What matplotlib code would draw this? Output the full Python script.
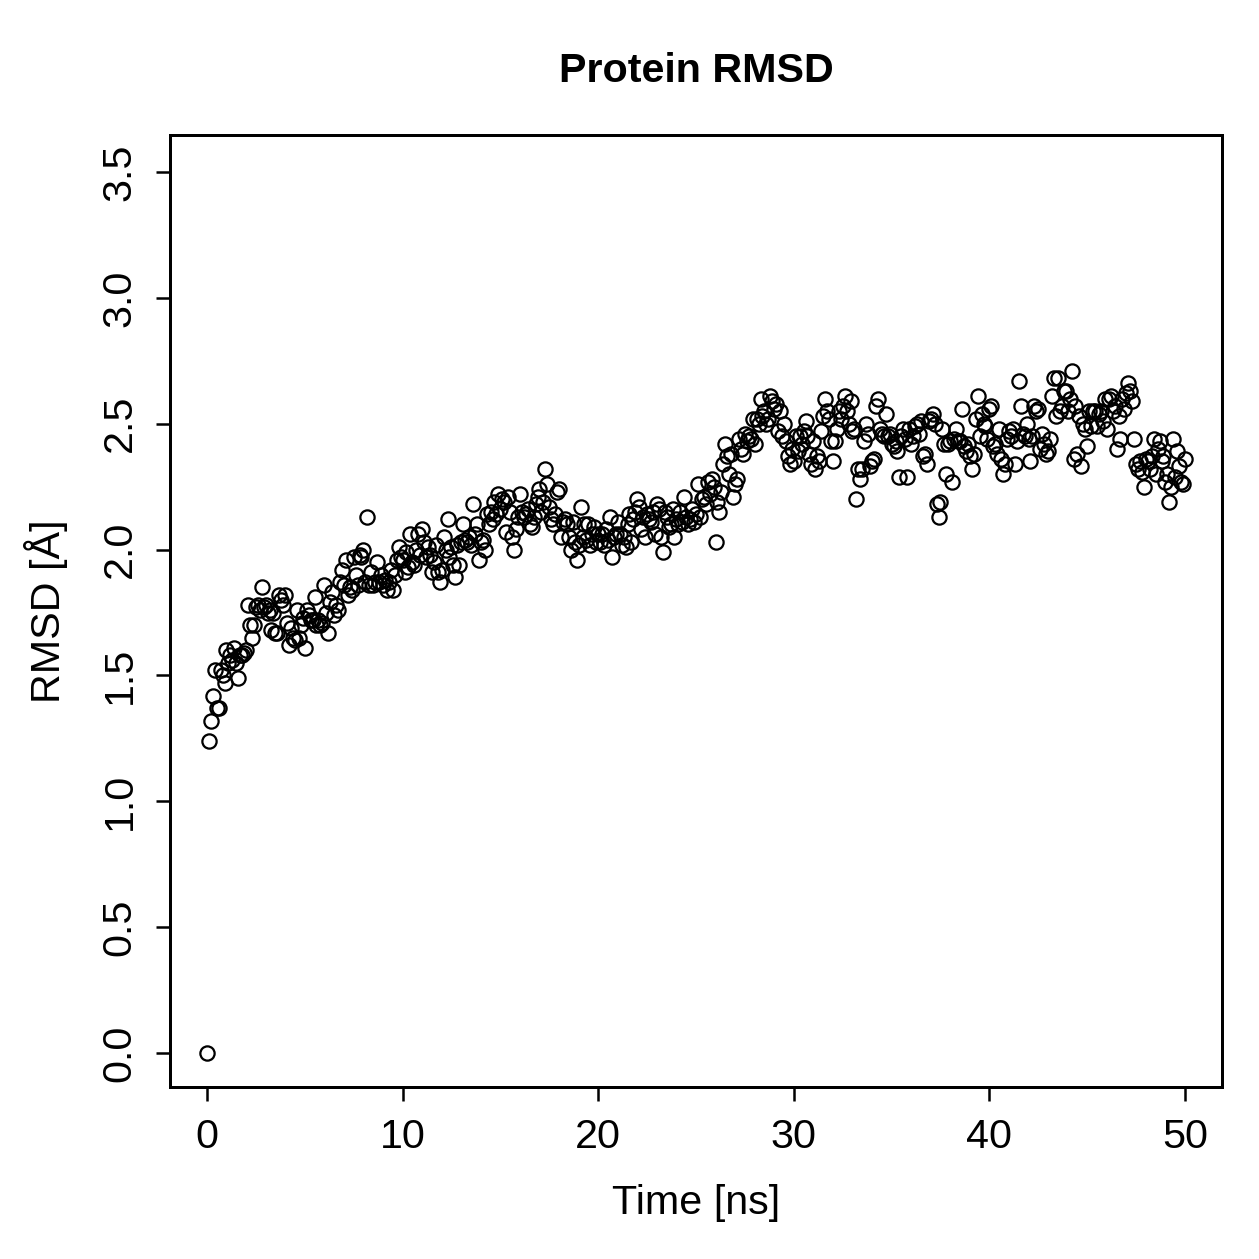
#!/usr/bin/env python3

import numpy as np
import matplotlib.pyplot as plt

plt.rcParams["font.family"] = ["Liberation Sans", "DejaVu Sans"]

# time axis: 0..50 ns in 0.1 ns steps
time_ns = np.round(np.arange(0, 50.05, 0.1), 1)

# RMSD values, 10 per ns
rmsd = [
    0.00, 1.24, 1.32, 1.42, 1.52, 1.37, 1.37, 1.52, 1.50, 1.47,
    1.60, 1.55, 1.58, 1.56, 1.61, 1.55, 1.49, 1.58, 1.58, 1.59,
    1.60, 1.78, 1.70, 1.65, 1.70, 1.77, 1.78, 1.76, 1.85, 1.77,
    1.78, 1.75, 1.76, 1.68, 1.75, 1.67, 1.67, 1.82, 1.80, 1.78,
    1.82, 1.71, 1.62, 1.69, 1.65, 1.64, 1.76, 1.65, 1.70, 1.73,
    1.61, 1.76, 1.74, 1.72, 1.72, 1.81, 1.70, 1.72, 1.70, 1.71,
    1.86, 1.75, 1.67, 1.79, 1.83, 1.74, 1.78, 1.76, 1.87, 1.92,
    1.86, 1.96, 1.82, 1.85, 1.84, 1.97, 1.90, 1.86, 1.98, 1.97,
    2.00, 1.87, 2.13, 1.86, 1.91, 1.86, 1.87, 1.95, 1.87, 1.90,
    1.86, 1.88, 1.84, 1.87, 1.92, 1.84, 1.90, 1.96, 2.01, 1.97,
    1.96, 1.91, 1.99, 1.93, 2.06, 1.95, 1.94, 2.00, 2.06, 1.98,
    2.08, 2.03, 1.97, 2.01, 1.98, 1.91, 1.95, 2.02, 1.91, 1.87,
    1.92, 2.05, 2.00, 2.12, 1.97, 2.01, 1.94, 1.89, 2.02, 1.94,
    2.03, 2.10, 2.04, 2.03, 2.05, 2.02, 2.18, 2.06, 2.10, 1.96,
    2.03, 2.04, 2.00, 2.14, 2.10, 2.15, 2.12, 2.19, 2.14, 2.22,
    2.16, 2.20, 2.19, 2.07, 2.21, 2.15, 2.05, 2.00, 2.08, 2.13,
    2.22, 2.15, 2.13, 2.14, 2.16, 2.10, 2.09, 2.13, 2.18, 2.21,
    2.24, 2.15, 2.19, 2.32, 2.26, 2.17, 2.12, 2.10, 2.14, 2.23,
    2.24, 2.05, 2.11, 2.12, 2.10, 2.05, 2.00, 2.11, 2.03, 1.96,
    2.02, 2.17, 2.05, 2.10, 2.04, 2.10, 2.02, 2.06, 2.09, 2.03,
    2.06, 2.03, 2.06, 2.02, 2.08, 2.04, 2.13, 1.97, 2.05, 2.06,
    2.11, 2.06, 2.02, 2.05, 2.01, 2.10, 2.14, 2.03, 2.12, 2.15,
    2.20, 2.17, 2.08, 2.13, 2.05, 2.14, 2.12, 2.11, 2.15, 2.06,
    2.18, 2.16, 2.05, 1.99, 2.15, 2.13, 2.09, 2.10, 2.16, 2.05,
    2.12, 2.10, 2.15, 2.11, 2.21, 2.13, 2.10, 2.12, 2.16, 2.11,
    2.14, 2.26, 2.13, 2.20, 2.21, 2.18, 2.27, 2.22, 2.28, 2.25,
    2.03, 2.19, 2.15, 2.23, 2.34, 2.42, 2.37, 2.30, 2.38, 2.21,
    2.26, 2.28, 2.44, 2.40, 2.38, 2.46, 2.43, 2.45, 2.44, 2.52,
    2.42, 2.52, 2.50, 2.60, 2.53, 2.55, 2.50, 2.52, 2.61, 2.59,
    2.56, 2.58, 2.47, 2.55, 2.45, 2.50, 2.43, 2.37, 2.34, 2.40,
    2.35, 2.45, 2.39, 2.45, 2.42, 2.47, 2.51, 2.45, 2.38, 2.34,
    2.43, 2.32, 2.37, 2.35, 2.47, 2.53, 2.60, 2.55, 2.52, 2.43,
    2.35, 2.43, 2.48, 2.55, 2.52, 2.57, 2.61, 2.55, 2.50, 2.59,
    2.47, 2.48, 2.20, 2.32, 2.28, 2.32, 2.43, 2.50, 2.46, 2.33,
    2.35, 2.36, 2.57, 2.60, 2.48, 2.46, 2.45, 2.54, 2.45, 2.46,
    2.42, 2.41, 2.43, 2.39, 2.29, 2.45, 2.48, 2.44, 2.29, 2.48,
    2.42, 2.45, 2.49, 2.50, 2.46, 2.51, 2.37, 2.38, 2.34, 2.51,
    2.52, 2.54, 2.50, 2.18, 2.13, 2.19, 2.48, 2.42, 2.30, 2.42,
    2.43, 2.27, 2.44, 2.48, 2.43, 2.43, 2.56, 2.41, 2.39, 2.42,
    2.37, 2.32, 2.38, 2.52, 2.61, 2.45, 2.54, 2.50, 2.49, 2.44,
    2.56, 2.57, 2.41, 2.42, 2.38, 2.48, 2.36, 2.30, 2.34, 2.44,
    2.47, 2.45, 2.48, 2.34, 2.43, 2.67, 2.57, 2.46, 2.45, 2.50,
    2.44, 2.35, 2.45, 2.57, 2.55, 2.56, 2.40, 2.46, 2.42, 2.38,
    2.39, 2.44, 2.61, 2.68, 2.53, 2.68, 2.55, 2.57, 2.63, 2.63,
    2.55, 2.60, 2.71, 2.36, 2.57, 2.38, 2.53, 2.33, 2.50, 2.48,
    2.41, 2.55, 2.49, 2.55, 2.55, 2.49, 2.54, 2.55, 2.51, 2.60,
    2.48, 2.60, 2.61, 2.55, 2.57, 2.40, 2.53, 2.44, 2.60, 2.56,
    2.62, 2.66, 2.63, 2.59, 2.44, 2.34, 2.32, 2.35, 2.31, 2.25,
    2.36, 2.35, 2.32, 2.37, 2.44, 2.30, 2.40, 2.43, 2.35, 2.37,
    2.27, 2.30, 2.19, 2.25, 2.44, 2.29, 2.39, 2.33, 2.27, 2.26,
    2.36,
]

x_ticks = [0, 10, 20, 30, 40, 50]
y_ticks = [0.0, 0.5, 1.0, 1.5, 2.0, 2.5, 3.0, 3.5]

fig = plt.figure(figsize=(1259 / 180, 1259 / 180), dpi=180)
ax = fig.add_axes([0.135, 0.1366, 0.8356, 0.7562])

ax.plot(time_ns, rmsd, linestyle="none", marker="o", markersize=5.7,
        markerfacecolor="none", markeredgecolor="black", markeredgewidth=0.9)

ax.set_xlim(-1.89, 51.89)
ax.set_ylim(-0.135, 3.647)
ax.set_xticks(x_ticks)
ax.set_xticklabels([str(t) for t in x_ticks])
ax.set_yticks(y_ticks)
ax.set_yticklabels([f"{v:.1f}" for v in y_ticks], rotation=90, va="center")

ax.tick_params(direction="out", length=5.5, width=1.0, labelsize=16.5, pad=7)
for s in ax.spines.values():
    s.set_linewidth(1.2)

ax.set_xlabel("Time [ns]", fontsize=16.5, labelpad=11)
ax.set_ylabel("RMSD [Å]", fontsize=16.5, labelpad=13)
fig.text(0.553, 0.944, "Protein RMSD", ha="center", va="center",
         fontsize=16.5, fontweight="bold")

fig.savefig("out.png", dpi=180)
